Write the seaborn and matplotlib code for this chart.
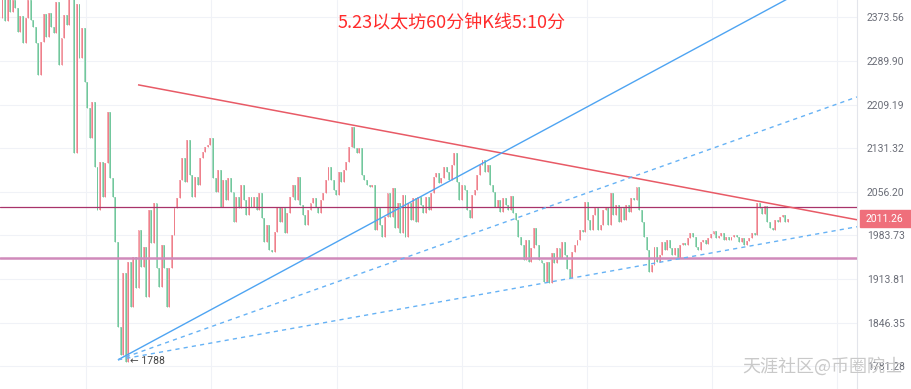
import matplotlib
matplotlib.use("Agg")
import matplotlib.pyplot as plt
import seaborn as sns
import pandas as pd
from matplotlib.patches import Rectangle
from matplotlib.ticker import NullLocator

# ETH 60-minute candles, closes (open = previous close)
first_open = 2373
closes = [
    2416, 2367, 2414, 2384, 2408, 2392, 2346, 2377, 2324, 2373,
    2408, 2369, 2355, 2324, 2264, 2326, 2380, 2336, 2382, 2355,
    2344, 2404, 2283, 2334, 2379, 2359, 2412, 2431,
    2123, 2400, 2296, 2353, 2251, 2203, 2150, 2214, 2099, 2026,
    2108, 2048, 2106, 2196, 2080, 2048, 1973, 1840, 1798, 1924,
    1788, 1941, 1871, 1949, 1900, 1993,
    1933, 1965, 1886, 2026, 1972, 2037, 1932, 1902, 1968, 1932,
    1871, 1932, 1985, 2029, 2046, 2077, 2114, 2073, 2146, 2085,
    2048, 2082, 2068, 2114, 2125, 2133, 2137, 2150, 2080, 2056,
    2094, 2031, 2077, 2042, 2080, 2056, 2005, 2048, 2029, 2068,
    2042, 2018, 2048, 2031, 2048, 2026, 2055, 2013, 1973, 2001,
    1960, 1957, 1990, 2031, 2005, 2029, 1988, 2021, 2048,
    2068, 2042, 2082, 2034, 2018, 2001, 2026, 2037, 2046, 2031,
    2021, 2042, 2055, 2077, 2099, 2077, 2060, 2051, 2090, 2073,
    2094, 2108, 2133, 2169, 2132, 2123, 2132, 2085, 2077, 2068, 2065,
    2068, 1993, 2029, 2001, 1982, 2014, 2055, 2014, 2063, 1996,
    2037, 1988, 2051, 1982, 2037, 2009, 2046, 2006, 2048, 2034,
    2021, 2048, 2026, 2055, 2082, 2089, 2072, 2080, 2099, 2090,
    2077, 2102, 2123, 2073, 2042, 2068, 2060, 2026, 2013, 2051,
    2060, 2085, 2102, 2111, 2090, 2102, 2068, 2056, 2031, 2042,
    2023, 2046, 2034, 2026, 2049, 2021, 2009, 1982, 1968,
    1944, 1977, 1941, 1963, 1996, 1968, 1944, 1940, 1910, 1941,
    1908, 1955, 1940, 1963, 1948, 1973, 1952, 1929, 1916, 1957,
    1968, 1977, 1993, 1990, 2039, 2009, 1993, 2018, 2029, 1993,
    2001, 2026, 2031, 2001, 2055, 2018, 2034, 2006, 2029, 2009,
    2034, 2023, 2046, 2042, 2065, 2026, 2005, 1982, 1960, 1925,
    1936, 1965, 1941, 1952, 1973, 1960, 1977, 1963, 1952, 1963,
    1948, 1968, 1972, 1968, 1980, 1988, 1982, 1965, 1960, 1973,
    1977, 1970, 1980, 1986, 1991, 1980, 1983, 1988, 1977, 1982,
    1977, 1982, 1985, 1982, 1973, 1980, 1968, 1975, 1980, 1988,
    1985, 2037, 2029, 2019, 2033, 2006, 1996, 1993, 2009, 2006,
    2014, 2018, 2006, 2011.26,
]
last_price = 2011.26

price_ticks = [2373.56, 2289.90, 2209.19, 2131.32, 2056.20, 1983.73, 1913.81, 1846.35, 1781.28]
time_grid = [32.5, 81.2, 130.3, 179.0, 227.7, 276.4, 325.1]

resistance_level = 2030.9
support_level = 1947.6
# trend lines: (start index, start price, end index, end price)
red_trend = (52.8, 2245.4, 332.9, 2009.5)
blue_trend = (45.0, 1790.9, 308.7, 2417.7)
blue_dash_upper = (45.0, 1790.9, 332.9, 2223.1)
blue_dash_lower = (45.0, 1790.9, 332.9, 1998.0)
low_label = "← 1788"
title = "5.23以太坊60分钟K线5:10分"
watermark = "天涯社区@币圈院士"

df = pd.DataFrame({"close": closes})
df["open"] = [first_open] + closes[:-1]
df["idx"] = range(len(df))
df["up"] = df["close"] >= df["open"]
df["lo"] = df[["open", "close"]].min(axis=1)
df["hi"] = df[["open", "close"]].max(axis=1)

sns.set_theme(style="white")
plt.rcParams["font.family"] = ["Roboto", "DejaVu Sans"]

W, H = 912, 389
fig = plt.figure(figsize=(W / 100, H / 100), dpi=100)
ax = fig.add_axes([0, 0, 857 / W, 1])
ax.set_facecolor("white")

ax.set_yscale("log")
ax.set_ylim(1748.4, 2407.6)
ax.set_xlim(-0.97, 332.9)

# grid
for v in price_ticks:
    ax.axhline(v, color="#f0f2f7", lw=0.8, zorder=0)
for g in time_grid:
    ax.axvline(g, color="#f0f2f7", lw=0.8, zorder=0)

# candles (red = up, green = down)
body = {True: "#f5abb3", False: "#a6dbbf"}
edge = {True: "#ec737f", False: "#62c193"}
for up, part in df.groupby("up"):
    ax.bar(part["idx"], part["hi"] - part["lo"], bottom=part["lo"], width=0.75,
           color=body[up], linewidth=0, zorder=2)
    ax.vlines(part["idx"], part["lo"], part["hi"], color=edge[up], lw=0.55, zorder=3)

# levels
ax.axhline(resistance_level, color="#a8336a", lw=0.9, zorder=4)
ax.axhline(support_level, color="#d08abb", lw=1.8, zorder=4)

def draw(seg, **kw):
    ax.plot([seg[0], seg[2]], [seg[1], seg[3]], zorder=5, solid_capstyle="butt", **kw)

draw(red_trend, color="#e85a66", lw=1.1)
draw(blue_trend, color="#4ea4f2", lw=1.0)
draw(blue_dash_upper, color="#66b2f5", lw=1.0, dashes=(3, 3))
draw(blue_dash_lower, color="#66b2f5", lw=1.0, dashes=(3, 3))

ax.text(49.5, 1789, low_label, fontsize=7.5, color="#444444", ha="left", va="center",
        family=["Roboto", "DejaVu Sans"], zorder=6)

# axis styling
ax.yaxis.tick_right()
ax.set_yticks(price_ticks)
ax.set_yticklabels([f"{v:.2f}" for v in price_ticks])
ax.yaxis.set_minor_locator(NullLocator())
ax.set_xticks([])
ax.tick_params(axis="y", length=0, pad=7, labelsize=7.5, labelcolor="#6b6e78")
for s in ["top", "left", "bottom"]:
    ax.spines[s].set_visible(False)
ax.spines["right"].set_color("#e3e5eb")
ax.spines["right"].set_linewidth(0.8)

# last price tag
fig.patches.append(Rectangle((860 / W, 1 - 227 / H), 52 / W, 17 / H,
                             transform=fig.transFigure, color="#ef6f7b", zorder=10))
fig.text(866 / W, 1 - 218.7 / H, f"{last_price:.2f}", color="white", fontsize=7.5,
         ha="left", va="center", zorder=11)

fig.text(452 / W, 1 - 23 / H, title, color="#ff2b2b", fontsize=13, ha="center", va="center",
         family=["Noto Sans CJK SC", "DejaVu Sans"])
fig.text(742 / W, 1 - 366 / H, watermark, color="#c9c9c9", fontsize=13, ha="left", va="center",
         family=["Noto Sans CJK SC", "DejaVu Sans"], zorder=12)

fig.savefig("out.png", dpi=100)
